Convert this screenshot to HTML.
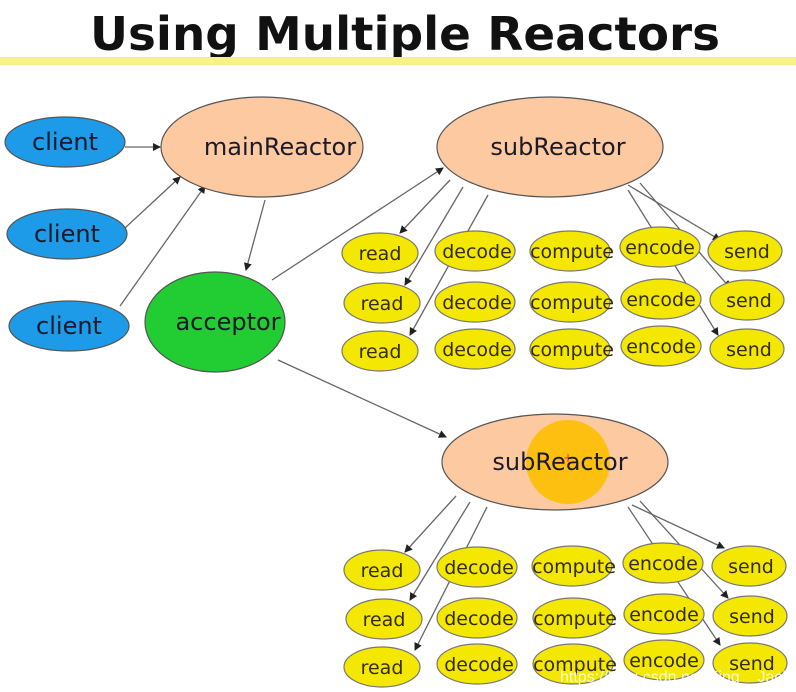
<!DOCTYPE html>
<html><head><meta charset="utf-8"><style>
html,body{margin:0;padding:0;background:#fff;}
svg{display:block;}
text{font-family:"DejaVu Sans","Liberation Sans",sans-serif;}
</style></head><body>
<svg width="796" height="692" viewBox="0 0 796 692" xmlns="http://www.w3.org/2000/svg">
<defs>
<marker id="a" markerWidth="8" markerHeight="8" refX="7" refY="4" orient="auto" markerUnits="userSpaceOnUse">
<path d="M0,0 L8,4 L0,8 z" fill="#222"/></marker>
</defs>
<rect width="796" height="692" fill="#fff"/>
<text x="405" y="50" text-anchor="middle" font-size="46" font-weight="bold" fill="#111" style="font-family:'DejaVu Sans',sans-serif" textLength="630" lengthAdjust="spacingAndGlyphs">Using Multiple Reactors</text>
<rect x="0" y="57" width="796" height="8" fill="#f6f18a"/>

<g stroke="#666" stroke-width="1.3" fill="none" marker-end="url(#a)">
<line x1="125" y1="147" x2="160" y2="147"/>
<line x1="125" y1="228" x2="180" y2="177"/>
<line x1="120" y1="306" x2="205" y2="186"/>
<line x1="265" y1="200" x2="246" y2="270"/>
<line x1="272" y1="280" x2="443" y2="168"/>
<line x1="278" y1="360" x2="446" y2="437"/>
<line x1="450" y1="180" x2="400" y2="233"/>
<line x1="463" y1="187" x2="405" y2="285"/>
<line x1="488" y1="195" x2="410" y2="335"/>
<line x1="628" y1="185" x2="720" y2="240"/>
<line x1="640" y1="183" x2="730" y2="288"/>
<line x1="628" y1="190" x2="718" y2="335"/>
<line x1="456" y1="496" x2="405" y2="552"/>
<line x1="470" y1="502" x2="410" y2="600"/>
<line x1="487" y1="507" x2="415" y2="650"/>
<line x1="632" y1="505" x2="724" y2="548"/>
<line x1="640" y1="501" x2="728" y2="598"/>
<line x1="628" y1="507" x2="720" y2="645"/>
</g>

<g stroke="#555" stroke-width="1.2">
<ellipse cx="65" cy="142" rx="60" ry="25" fill="#1e9be8"/>
<ellipse cx="67" cy="234" rx="60" ry="25" fill="#1e9be8"/>
<ellipse cx="69" cy="326" rx="60" ry="25" fill="#1e9be8"/>
<ellipse cx="262" cy="147" rx="101" ry="50" fill="#fcc9a0"/>
<ellipse cx="550" cy="147" rx="113" ry="50" fill="#fcc9a0"/>
<ellipse cx="215" cy="322" rx="70" ry="50" fill="#22cc33"/>
<ellipse cx="555" cy="462" rx="113" ry="48" fill="#fcc9a0"/>
</g>
<circle cx="568" cy="462" r="42" fill="#fdbf10"/>
<text x="568" y="462" font-size="12" fill="#e33" text-anchor="middle">+</text>

<g font-size="24" fill="#1a1a2a" text-anchor="middle">
<text x="65" y="150">client</text>
<text x="67" y="242">client</text>
<text x="69" y="334">client</text>
<text x="280" y="155">mainReactor</text>
<text x="558" y="155">subReactor</text>
<text x="228" y="330">acceptor</text>
<text x="560" y="470">subReactor</text>
</g>

<g stroke="#777" stroke-width="1.2" fill="#f5e800">
<ellipse cx="380" cy="253" rx="38" ry="20"/><ellipse cx="475" cy="251" rx="40" ry="20"/><ellipse cx="570" cy="251" rx="40" ry="20"/><ellipse cx="660" cy="247" rx="40" ry="20"/><ellipse cx="745" cy="251" rx="37" ry="20"/>
<ellipse cx="382" cy="303" rx="38" ry="20"/><ellipse cx="475" cy="302" rx="40" ry="20"/><ellipse cx="570" cy="302" rx="40" ry="20"/><ellipse cx="661" cy="299" rx="40" ry="20"/><ellipse cx="747" cy="300" rx="37" ry="20"/>
<ellipse cx="380" cy="351" rx="38" ry="20"/><ellipse cx="475" cy="349" rx="40" ry="20"/><ellipse cx="570" cy="349" rx="40" ry="20"/><ellipse cx="661" cy="346" rx="40" ry="20"/><ellipse cx="747" cy="349" rx="37" ry="20"/>
<ellipse cx="382" cy="570" rx="38" ry="20"/><ellipse cx="477" cy="567" rx="40" ry="20"/><ellipse cx="572" cy="566" rx="40" ry="20"/><ellipse cx="663" cy="563" rx="40" ry="20"/><ellipse cx="749" cy="566" rx="37" ry="20"/>
<ellipse cx="384" cy="619" rx="38" ry="20"/><ellipse cx="477" cy="618" rx="40" ry="20"/><ellipse cx="573" cy="618" rx="40" ry="20"/><ellipse cx="664" cy="614" rx="40" ry="20"/><ellipse cx="750" cy="616" rx="37" ry="20"/>
<ellipse cx="382" cy="667" rx="38" ry="20"/><ellipse cx="477" cy="664" rx="40" ry="20"/><ellipse cx="573" cy="664" rx="40" ry="20"/><ellipse cx="664" cy="660" rx="40" ry="20"/><ellipse cx="750" cy="663" rx="37" ry="20"/>
</g>
<g font-size="19" fill="#332b00" text-anchor="middle">
<text x="380" y="260">read</text><text x="477" y="258">decode</text><text x="572" y="258">compute</text><text x="660" y="254">encode</text><text x="747" y="258">send</text>
<text x="382" y="310">read</text><text x="477" y="309">decode</text><text x="572" y="309">compute</text><text x="661" y="306">encode</text><text x="749" y="307">send</text>
<text x="380" y="358">read</text><text x="477" y="356">decode</text><text x="572" y="356">compute</text><text x="661" y="353">encode</text><text x="749" y="356">send</text>
<text x="382" y="577">read</text><text x="479" y="574">decode</text><text x="574" y="573">compute</text><text x="663" y="570">encode</text><text x="751" y="573">send</text>
<text x="384" y="626">read</text><text x="479" y="625">decode</text><text x="575" y="625">compute</text><text x="664" y="621">encode</text><text x="752" y="623">send</text>
<text x="382" y="674">read</text><text x="479" y="671">decode</text><text x="575" y="671">compute</text><text x="664" y="667">encode</text><text x="752" y="670">send</text>
</g>
<text x="560" y="682" font-size="16" fill="#ffffff" fill-opacity="0.85" style="font-family:'Liberation Sans',sans-serif">https://blog.csdn.net/King__Jack</text>
</svg>
</body></html>
